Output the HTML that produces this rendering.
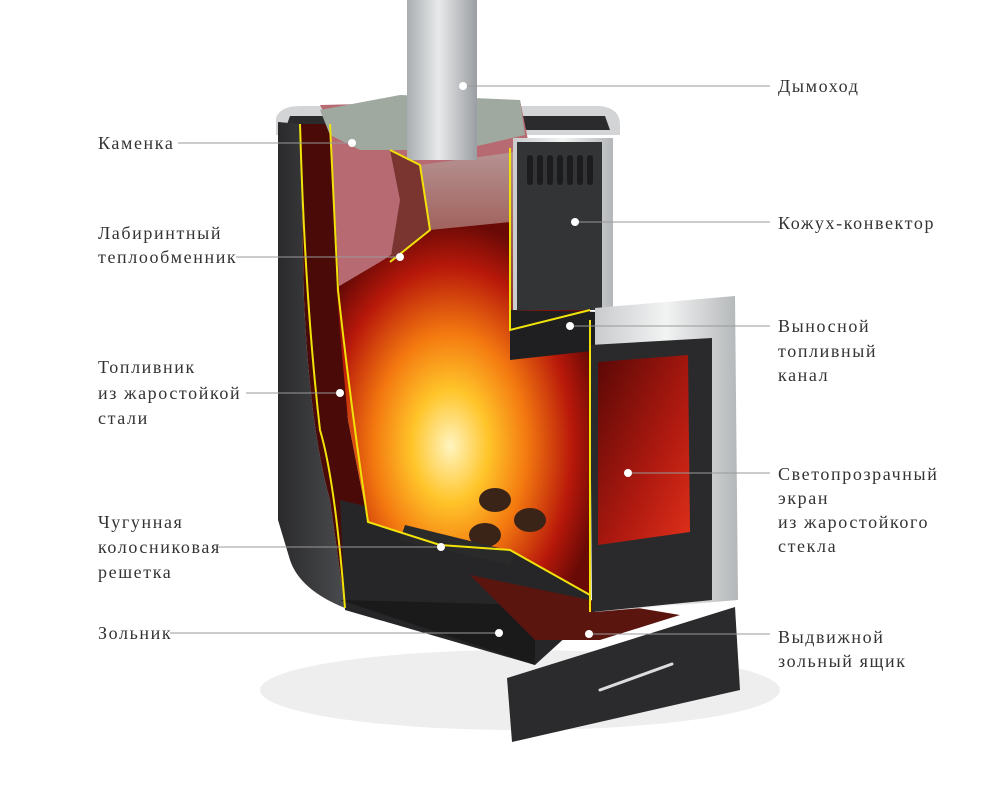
<!DOCTYPE html>
<html><head><meta charset="utf-8"><style>
html,body{margin:0;padding:0;background:#fff;width:1000px;height:794px;overflow:hidden}
svg{display:block}
text{font-family:"Liberation Serif",serif;font-size:18px;letter-spacing:1.6px;fill:#333}
</style></head><body>
<svg width="1000" height="794" viewBox="0 0 1000 794" xmlns="http://www.w3.org/2000/svg">
<defs>
<linearGradient id="pipe" x1="0" x2="1"><stop offset="0" stop-color="#a9adb0"/><stop offset=".45" stop-color="#e8eaeb"/><stop offset="1" stop-color="#9a9ea2"/></linearGradient>
<radialGradient id="fire" cx="0.45" cy="0.6" r="0.6"><stop offset="0" stop-color="#fff4c0"/><stop offset=".25" stop-color="#ffc52a"/><stop offset=".5" stop-color="#f47a10"/><stop offset=".8" stop-color="#b8180a"/><stop offset="1" stop-color="#6a0a06"/></radialGradient>
<linearGradient id="smoke" x1="0" x2="0" y1="0" y2="1"><stop offset="0" stop-color="#b89a9a"/><stop offset="1" stop-color="#8a2a20"/></linearGradient>
<linearGradient id="glass" x1="0" x2="1" y1="0" y2="1"><stop offset="0" stop-color="#5a0806"/><stop offset=".6" stop-color="#b01a10"/><stop offset="1" stop-color="#e0301a"/></linearGradient>
<linearGradient id="silver" x1="0" x2="1"><stop offset="0" stop-color="#c9cbcd"/><stop offset=".5" stop-color="#f2f3f3"/><stop offset="1" stop-color="#b4b7b9"/></linearGradient>
<linearGradient id="dark" x1="0" x2="1"><stop offset="0" stop-color="#2a2a2c"/><stop offset="1" stop-color="#4a4b4e"/></linearGradient>
</defs>
<ellipse cx="520" cy="690" rx="260" ry="40" fill="#eee"/>
<path d="M276 118 Q280 106 300 106 L600 106 Q620 108 620 125 L620 135 L276 135 Z" fill="#d2d4d6"/>
<path d="M290 116 L605 116 L610 130 L285 130 Z" fill="#2b2b2d"/>
<!-- smoke area -->
<path d="M400 140 L515 140 L515 320 L420 300 L390 262 L430 230 Z" fill="url(#smoke)"/>
<!-- left body -->
<path d="M278 122 L300 124 L304 300 Q310 430 330 500 L345 608 Q300 590 290 560 L278 520 Z" fill="url(#dark)"/>
<path d="M300 124 L332 124 L340 300 L348 420 L368 522 L345 608 L330 500 Q310 430 304 300 Z" fill="#4a0a08"/>
<!-- stones -->
<path d="M320 105 L520 100 L530 150 L420 165 L420 250 L380 300 L340 300 L330 124 Z" fill="#b76a72"/>
<path d="M320 110 L400 95 L520 100 L525 135 L460 150 L360 150 L330 135 Z" fill="#9fa99f"/>
<!-- base -->
<path d="M340 500 L590 560 L590 615 L535 665 L345 610 Z" fill="#262628"/>
<path d="M340 600 L535 665 L535 605 Z" fill="#1a1a1b"/>
<!-- fire chamber -->
<path d="M336 288 L380 262 L430 230 L510 222 L510 310 L590 310 L590 595 L510 550 L440 545 L368 522 L348 420 Z" fill="url(#fire)"/>
<path d="M390 150 L420 165 L430 230 L390 262 L400 200 Z" fill="#7a3530"/>
<ellipse cx="495" cy="500" rx="16" ry="12" fill="#3a2418"/>
<ellipse cx="530" cy="520" rx="16" ry="12" fill="#3a2418"/>
<ellipse cx="485" cy="535" rx="16" ry="12" fill="#3a2418"/>
<path d="M405 525 L515 552 L510 565 L400 540 Z" fill="#2a2a2a"/>
<path d="M470 575 L590 600 L680 615 L600 640 L535 640 Z" fill="#5a150f"/>
<!-- convector -->
<rect x="513" y="138" width="100" height="172" fill="url(#silver)"/>
<rect x="517" y="142" width="85" height="168" fill="#333436"/>
<g fill="#1c1c1e"><rect x="527" y="155" width="6" height="30" rx="3"/><rect x="537" y="155" width="6" height="30" rx="3"/><rect x="547" y="155" width="6" height="30" rx="3"/><rect x="557" y="155" width="6" height="30" rx="3"/><rect x="567" y="155" width="6" height="30" rx="3"/><rect x="577" y="155" width="6" height="30" rx="3"/><rect x="587" y="155" width="6" height="30" rx="3"/></g>
<path d="M510 310 L600 312 L600 350 L510 360 Z" fill="#1f1f21"/>
<!-- door -->
<path d="M595 308 L735 296 L738 600 L595 612 Z" fill="url(#silver)"/>
<path d="M590 345 L712 338 L712 600 L592 612 Z" fill="#2a2a2c"/>
<path d="M598 362 L688 355 L690 532 L598 545 Z" fill="url(#glass)"/>
<!-- drawer -->
<path d="M507 678 L735 607 L740 690 L512 742 Z" fill="#2b2b2d"/>
<path d="M600 690 L672 664" stroke="#ddd" stroke-width="3" stroke-linecap="round"/>
<rect x="407" y="0" width="70" height="160" fill="url(#pipe)"/>
<g fill="none" stroke="#f1e20a" stroke-width="2">
<path d="M300 124 Q305 300 320 430 Q335 480 345 608"/>
<path d="M330 124 L338 290 Q350 400 368 522 L440 545 L510 550 L590 595"/>
<path d="M390 150 L420 165 L430 230 L390 262"/>
<path d="M510 148 L510 330 L590 310"/>
<path d="M590 320 L590 612"/>
</g>
<g stroke="#999" stroke-width="1">
<line x1="178" y1="143" x2="352" y2="143"/>
<line x1="236" y1="257" x2="400" y2="257"/>
<line x1="246" y1="393" x2="340" y2="393"/>
<line x1="218" y1="547" x2="440" y2="547"/>
<line x1="170" y1="633" x2="497" y2="633"/>
<line x1="463" y1="86" x2="770" y2="86"/>
<line x1="575" y1="222" x2="770" y2="222"/>
<line x1="570" y1="326" x2="770" y2="326"/>
<line x1="628" y1="473" x2="770" y2="473"/>
<line x1="590" y1="634" x2="770" y2="634"/>
</g>
<g fill="#fff"><circle cx="352" cy="143" r="4"/><circle cx="400" cy="257" r="4"/><circle cx="340" cy="393" r="4"/><circle cx="441" cy="547" r="4"/><circle cx="499" cy="633" r="4"/><circle cx="463" cy="86" r="4"/><circle cx="575" cy="222" r="4"/><circle cx="570" cy="326" r="4"/><circle cx="628" cy="473" r="4"/><circle cx="589" cy="634" r="4"/></g>
<text x="98" y="149">Каменка</text>
<text x="98" y="239">Лабиринтный</text>
<text x="98" y="263">теплообменник</text>
<text x="98" y="373">Топливник</text>
<text x="98" y="399">из жаростойкой</text>
<text x="98" y="424">стали</text>
<text x="98" y="528">Чугунная</text>
<text x="98" y="553">колосниковая</text>
<text x="98" y="578">решетка</text>
<text x="98" y="639">Зольник</text>
<text x="778" y="92">Дымоход</text>
<text x="778" y="229">Кожух-конвектор</text>
<text x="778" y="332">Выносной</text>
<text x="778" y="357">топливный</text>
<text x="778" y="381">канал</text>
<text x="778" y="480">Светопрозрачный</text>
<text x="778" y="504">экран</text>
<text x="778" y="528">из жаростойкого</text>
<text x="778" y="552">стекла</text>
<text x="778" y="643">Выдвижной</text>
<text x="778" y="667">зольный ящик</text>
</svg>
</body></html>
